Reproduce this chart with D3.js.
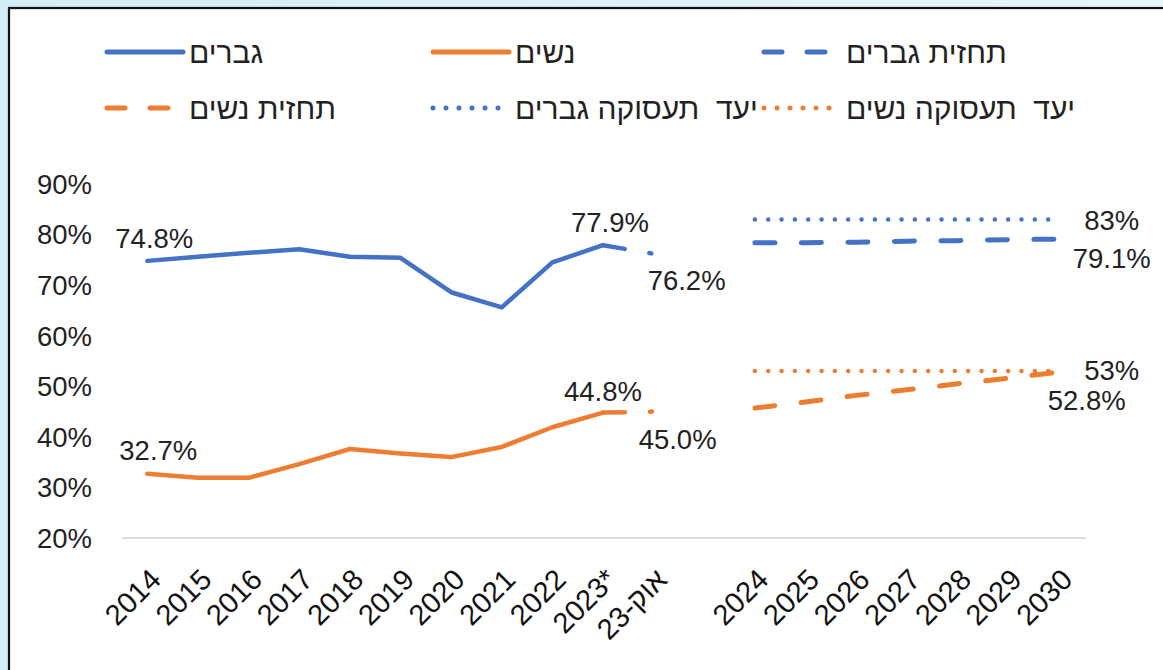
<!DOCTYPE html>
<html>
<head>
<meta charset="utf-8">
<script src="https://cdn.jsdelivr.net/npm/d3@7"></script>
<style>
  body { margin: 0; background: #fff; }
  svg { display: block; font-family: "Liberation Sans", Arial, sans-serif; }
</style>
</head>
<body>
<svg id="chart"></svg>
<script>
// categories (blank slot between Oct-23 and 2024)
var categories = ["2014","2015","2016","2017","2018","2019","2020","2021","2022","2023*","אוק-23","","2024","2025","2026","2027","2028","2029","2030"];

var histYears = ["2014","2015","2016","2017","2018","2019","2020","2021","2022","2023*"];
var menValues = [74.8, 75.6, 76.4, 77.1, 75.6, 75.4, 68.6, 65.6, 74.5, 77.9];
var womenValues = [32.7, 31.9, 31.9, 34.6, 37.6, 36.7, 36.0, 38.0, 41.9, 44.8];

var octYears = ["2023*", "אוק-23"];
var menOct = [77.9, 76.2];
var womenOct = [44.8, 45.0];

var forecastYears = ["2024","2025","2026","2027","2028","2029","2030"];
var menForecast = [78.4, 78.4, 78.5, 78.7, 78.8, 79.0, 79.1];
var womenForecast = [45.7, 46.9, 48.2, 49.3, 50.5, 51.6, 52.8];
var menTarget = [83, 83, 83, 83, 83, 83, 83];
var womenTarget = [53, 53, 53, 53, 53, 53, 53];

var yTicks = [20, 30, 40, 50, 60, 70, 80, 90];

var blue = "#4472c4", orange = "#ed7d31";

var width = 1163, height = 670;

var svg = d3.select("#chart")
    .attr("width", width)
    .attr("height", height);

// outer background + framed white panel
var grad = svg.append("defs").append("linearGradient")
    .attr("id", "bg").attr("x1", 0).attr("y1", 0).attr("x2", 1).attr("y2", 0);
grad.append("stop").attr("offset", "0%").attr("stop-color", "#d3edf6");
grad.append("stop").attr("offset", "100%").attr("stop-color", "#e8f5fa");
svg.append("rect").attr("width", width).attr("height", height).attr("fill", "url(#bg)");
svg.append("rect")
    .attr("x", 9).attr("y", 8)
    .attr("width", width + 20).attr("height", height + 20)
    .attr("fill", "#fff")
    .attr("stroke", "#111").attr("stroke-width", 2.2);

var x = d3.scaleBand().domain(categories).range([122, 1084]);
var cx = function(c) { return x(c) + x.bandwidth() / 2; };
var y = d3.scaleLinear().domain([20, 90]).range([538, 184]);

// y axis labels
svg.append("g").selectAll("text")
    .data(yTicks)
    .enter().append("text")
    .attr("x", 92)
    .attr("y", function(d) { return y(d); })
    .attr("dy", "0.36em")
    .attr("text-anchor", "end")
    .attr("font-size", 27.5)
    .attr("fill", "#222")
    .text(function(d) { return d + "%"; });

// baseline
svg.append("line")
    .attr("x1", x.range()[0]).attr("x2", x.range()[1] + 2)
    .attr("y1", y(20)).attr("y2", y(20))
    .attr("stroke", "#d0d0d0").attr("stroke-width", 1.5);

// x labels, rotated
svg.append("g").selectAll("text")
    .data(categories.filter(function(c) { return c !== ""; }))
    .enter().append("text")
    .attr("transform", function(c) { return "translate(" + (cx(c) + 1) + ",567)rotate(-45)"; })
    .attr("text-anchor", "end")
    .attr("dy", "0.7em")
    .attr("font-size", 29)
    .attr("fill", "#111")
    .style("direction", "ltr")
    .text(function(c) { return c; });

var line = d3.line()
    .x(function(d) { return cx(d[0]); })
    .y(function(d) { return y(d[1]); });

function series(keys, vals, color, dash, w) {
    var p = svg.append("path")
        .datum(d3.zip(keys, vals))
        .attr("d", line)
        .attr("fill", "none")
        .attr("stroke", color)
        .attr("stroke-width", w || 4.5)
        .attr("stroke-linejoin", "round")
        .attr("stroke-linecap", "round");
    if (dash) p.attr("stroke-dasharray", dash);
    return p;
}

series(histYears, menValues, blue);
series(histYears, womenValues, orange);
series(octYears, menOct, blue, "22,25,2,100");
series(octYears, womenOct, orange, "22,25,2,100");
series(forecastYears, menTarget, blue, "0,13.33", 4.5);
series(forecastYears, womenTarget, orange, "0,13.33", 4.5);
series(forecastYears, menForecast, blue, "20,26.5", 5);
series(forecastYears, womenForecast, orange, "20,26.5", 5);

// data labels
var labels = [
    {c: "2014", v: 74.8, t: "74.8%", dx: 7, dy: -13},
    {c: "2014", v: 32.7, t: "32.7%", dx: 11, dy: -14},
    {c: "2023*", v: 77.9, t: "77.9%", dx: 7, dy: -13},
    {c: "אוק-23", v: 76.2, t: "76.2%", dx: 33, dy: 36},
    {c: "2023*", v: 44.8, t: "44.8%", dx: 0, dy: -12},
    {c: "אוק-23", v: 45.0, t: "45.0%", dx: 24, dy: 37},
    {c: "2030", v: 83, t: "83%", dx: 53, dy: 11},
    {c: "2030", v: 79.1, t: "79.1%", dx: 53, dy: 29},
    {c: "2030", v: 53, t: "53%", dx: 53, dy: 9},
    {c: "2030", v: 52.8, t: "52.8%", dx: 28, dy: 38}
];
svg.append("g").selectAll("text")
    .data(labels)
    .enter().append("text")
    .attr("x", function(d) { return cx(d.c) + d.dx; })
    .attr("y", function(d) { return y(d.v) + d.dy; })
    .attr("text-anchor", "middle")
    .attr("font-size", 27.5)
    .attr("fill", "#222")
    .text(function(d) { return d.t; });

// legend
var legendItems = [
    {t: "גברים", c: blue, dash: null, col: 0, row: 0},
    {t: "נשים", c: orange, dash: null, col: 1, row: 0},
    {t: "תחזית גברים", c: blue, dash: "18,25", col: 2, row: 0},
    {t: "תחזית נשים", c: orange, dash: "18,25", col: 0, row: 1},
    {t: "יעד  תעסוקה גברים", c: blue, dash: "0,13", col: 1, row: 1},
    {t: "יעד  תעסוקה נשים", c: orange, dash: "0,13", col: 2, row: 1}
];
var colX = [107, 433, 764], rowY = [52, 108];
var lg = svg.append("g").selectAll("g")
    .data(legendItems)
    .enter().append("g")
    .attr("transform", function(d) { return "translate(" + colX[d.col] + "," + rowY[d.row] + ")"; });
lg.append("line")
    .attr("x1", 0).attr("x2", 76)
    .attr("stroke", function(d) { return d.c; })
    .attr("stroke-width", 5)
    .attr("stroke-linecap", "round")
    .attr("stroke-dasharray", function(d) { return d.dash; });
lg.append("text")
    .attr("x", 82)
    .attr("dy", "0.35em")
    .attr("font-size", 30)
    .attr("fill", "#222")
    .style("white-space", "pre")
    .text(function(d) { return d.t; });
</script>
</body>
</html>
